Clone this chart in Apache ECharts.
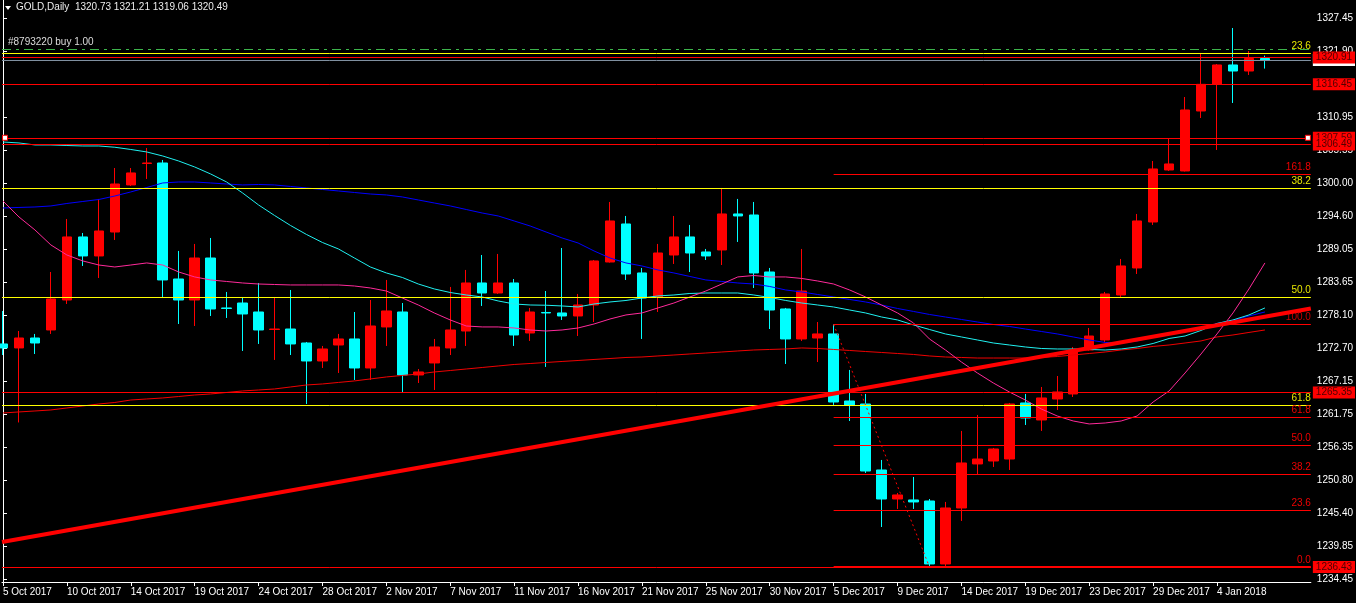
<!DOCTYPE html>
<html><head><meta charset="utf-8">
<script src="https://cdn.jsdelivr.net/npm/echarts@6/dist/echarts.min.js"></script>
<style>html,body{margin:0;padding:0;background:#000;}#c{width:1356px;height:603px;}</style>
</head><body><div id="c"></div>
<script>
// ---- data ----
const tickLabels = ['5 Oct 2017','10 Oct 2017','14 Oct 2017','19 Oct 2017','24 Oct 2017','28 Oct 2017','2 Nov 2017','7 Nov 2017','11 Nov 2017','16 Nov 2017','21 Nov 2017','25 Nov 2017','30 Nov 2017','5 Dec 2017','9 Dec 2017','14 Dec 2017','19 Dec 2017','23 Dec 2017','29 Dec 2017','4 Jan 2018'];
const yTicks = [1234.45,1239.85,1245.40,1250.80,1256.35,1261.75,1267.15,1272.70,1278.10,1283.65,1289.05,1294.60,1300.00,1305.55,1310.95,1316.40,1321.90,1327.45];

const open = [1273.41,1272.75,1274.40,1275.73,1280.70,1291.15,1288.00,1291.97,1299.77,1303.33,
1303.41,1284.18,1280.70,1287.66,1279.38,1280.20,1278.71,1275.81,1275.89,1273.57,
1270.59,1273.24,1274.24,1269.43,1276.23,1278.71,1268.27,1270.26,1272.75,1275.56,
1283.52,1281.86,1283.52,1275.23,1278.63,1278.55,1278.05,1279.87,1287.00,1293.30,
1285.18,1281.20,1288.16,1291.15,1288.66,1288.99,1294.96,1294.79,1285.34,1279.21,
1274.24,1274.40,1275.07,1263.96,1263.46,1252.52,1247.71,1247.55,1247.38,1236.94,
1246.22,1253.52,1254.01,1254.34,1263.63,1260.81,1264.29,1265.12,1272.41,1274.07,
1281.53,1286.01,1293.63,1302.25,1302.09,1312.03,1316.45,1319.66,1318.66,1320.73];
const close = [1272.75,1274.40,1273.57,1280.87,1291.15,1288.00,1292.14,1299.93,1301.76,1303.41,
1284.02,1280.70,1287.66,1279.21,1279.29,1278.38,1275.73,1275.89,1273.41,1270.59,
1272.58,1274.24,1269.43,1276.39,1278.88,1268.27,1268.77,1272.91,1275.73,1283.52,
1281.86,1283.52,1274.90,1278.71,1278.55,1278.05,1279.87,1287.17,1293.80,1285.01,
1281.03,1288.49,1291.15,1288.49,1288.00,1294.96,1294.63,1285.18,1279.04,1274.24,
1282.19,1275.07,1263.79,1263.30,1252.35,1247.71,1248.38,1247.22,1236.94,1246.22,
1253.68,1254.34,1256.00,1263.46,1261.14,1264.46,1265.45,1272.41,1274.73,1281.70,
1286.34,1293.80,1302.42,1303.25,1312.20,1316.45,1319.66,1318.66,1320.73,1320.49];
const low = [1271.58,1260.40,1271.75,1275.07,1280.04,1286.34,1284.35,1290.65,1299.60,1300.76,
1281.20,1276.72,1276.39,1278.05,1277.72,1272.25,1273.41,1270.76,1271.58,1263.46,
1269.43,1268.60,1267.44,1267.44,1273.08,1265.45,1266.94,1265.78,1271.58,1273.08,
1279.71,1281.70,1273.08,1273.91,1269.60,1277.39,1274.73,1277.05,1286.90,1284.02,
1274.24,1278.71,1286.67,1285.34,1287.33,1286.50,1290.32,1282.69,1275.89,1270.09,
1273.91,1270.42,1263.30,1260.64,1252.02,1243.07,1246.06,1246.06,1236.43,1236.50,
1244.07,1251.69,1253.02,1252.52,1259.98,1258.99,1262.47,1264.62,1272.30,1273.74,
1281.20,1285.01,1293.14,1302.09,1302.00,1310.87,1305.57,1313.36,1318.00,1319.06];
const high = [1278.88,1275.56,1275.07,1285.34,1294.13,1291.81,1297.45,1302.58,1302.58,1305.90,
1303.91,1288.83,1289.99,1290.98,1282.03,1281.20,1283.52,1281.20,1282.36,1273.74,
1273.08,1275.07,1278.71,1280.70,1284.02,1280.20,1269.26,1274.24,1282.86,1285.68,
1288.16,1288.33,1284.18,1279.38,1282.19,1289.32,1281.70,1287.33,1296.95,1294.63,
1286.01,1289.99,1294.63,1293.14,1289.16,1299.27,1297.45,1296.95,1286.01,1279.38,
1289.16,1277.05,1276.67,1269.10,1265.12,1254.18,1248.71,1251.36,1247.71,1247.22,
1258.99,1261.64,1256.17,1263.63,1265.12,1266.28,1268.10,1272.91,1276.06,1282.03,
1287.50,1294.96,1303.74,1307.39,1314.35,1321.65,1319.82,1325.79,1321.98,1321.21];

const maBlue = [1295.95,1296.04,1296.12,1296.29,1296.70,1297.03,1297.36,1297.94,1298.61,1299.35,
1300.10,1300.26,1300.26,1300.10,1299.93,1299.77,1299.85,1299.77,1299.52,1299.27,
1299.02,1298.77,1298.52,1298.27,1298.11,1297.78,1297.28,1296.78,1296.29,1295.70,
1295.12,1294.63,1293.80,1292.97,1291.97,1290.98,1290.15,1288.83,1287.66,1286.84,
1286.34,1285.68,1285.18,1284.60,1284.02,1283.77,1283.52,1283.35,1282.94,1282.36,
1282.03,1281.61,1281.20,1280.79,1280.37,1279.87,1279.29,1278.80,1278.30,1277.88,
1277.47,1277.05,1276.64,1276.31,1275.89,1275.48,1275.07,1274.57,1274.07,1273.66,
1273.57,1273.91,1274.57,1275.07,1275.40,1276.06,1276.81,1277.30,1278.05,1278.71];
const maCyan = [1306.89,1306.73,1306.40,1306.40,1306.31,1306.23,1306.23,1306.02,1305.65,1305.24,
1304.57,1303.74,1302.75,1301.59,1300.26,1298.44,1296.45,1294.71,1293.05,1291.56,
1290.23,1289.16,1287.66,1286.17,1285.18,1284.43,1283.35,1282.53,1281.94,1281.53,
1281.20,1280.54,1280.04,1279.87,1279.83,1279.71,1279.54,1280.04,1280.37,1280.62,
1281.03,1281.37,1281.53,1281.78,1281.86,1281.86,1281.86,1281.53,1281.12,1280.62,
1280.20,1279.87,1279.54,1279.04,1278.55,1277.88,1277.39,1276.56,1275.81,1275.07,
1274.57,1274.07,1273.57,1273.24,1272.91,1272.66,1272.58,1272.58,1272.50,1272.41,
1272.58,1272.91,1273.49,1274.32,1274.73,1275.65,1276.81,1277.39,1278.22,1279.38];
const maPink = [1297.11,1294.46,1292.31,1289.82,1288.16,1287.17,1286.50,1286.17,1286.50,1286.84,
1286.50,1285.34,1284.52,1284.02,1283.77,1283.52,1283.35,1283.27,1283.19,1283.19,
1283.19,1283.19,1283.02,1282.69,1282.19,1281.03,1279.87,1278.55,1277.39,1276.39,
1276.23,1276.23,1276.06,1275.73,1275.56,1275.73,1276.06,1276.72,1277.55,1278.22,
1278.55,1279.38,1280.20,1281.20,1282.19,1283.35,1284.52,1284.76,1284.52,1284.52,
1284.27,1283.85,1283.35,1282.36,1281.20,1279.87,1278.55,1276.89,1274.24,1272.41,
1270.42,1268.60,1266.94,1265.45,1264.12,1262.63,1261.47,1260.64,1260.15,1260.31,
1260.64,1261.47,1263.79,1265.62,1268.60,1271.75,1275.07,1278.55,1282.53,1286.84];
const maRed = [1261.97,1262.14,1262.30,1262.47,1262.80,1263.13,1263.46,1263.71,1264.12,1264.29,
1264.46,1264.70,1264.95,1265.12,1265.37,1265.62,1265.78,1265.95,1266.28,1266.61,
1266.78,1267.03,1267.28,1267.61,1267.94,1268.19,1268.43,1268.77,1269.01,1269.26,
1269.51,1269.76,1270.01,1270.17,1270.34,1270.51,1270.67,1270.84,1271.00,1271.17,
1271.25,1271.42,1271.58,1271.75,1271.91,1272.08,1272.25,1272.41,1272.50,1272.58,
1272.75,1272.66,1272.50,1272.33,1272.16,1272.00,1271.83,1271.67,1271.42,1271.25,
1271.17,1271.08,1271.08,1271.08,1271.08,1271.17,1271.33,1271.58,1271.83,1272.08,
1272.41,1272.66,1273.00,1273.24,1273.57,1273.91,1274.57,1274.90,1275.32,1275.73];

const priceLevels = [1316.45, 1307.59, 1265.35, 1236.43, 1306.49, 1320.91];
const bidPrice = 1320.49;
const tradePrice = 1322.26;
const tradeText = '#8793220 buy 1.00';
const yellowFibHigh = 1357.60, yellowFibLow = 1204.80;
const yellowFibRatios = [23.6, 38.2, 50.0, 61.8];
const redFibHigh = 1276.67, redFibLow = 1236.43;
const redFibRatios = [0.0, 23.6, 38.2, 50.0, 61.8, 100.0, 161.8];
const redFibStart = 52, redFibEnd = 58;
const trendLine = [[-0.0625, 1240.58], [81.875, 1279.29]];
const squarePrice = 1307.59;
const squareBars = [0.125, 81.69];

// ---- chart ----
const FONT = "'Liberation Sans','DejaVu Sans',sans-serif";
const FS = 10;
const xMin = -0.0625, xMax = 81.875;
const yMin = 1233.95, yMax = 1330.43;
const tickIdx = tickLabels.map((_, k) => k * 4);
const candles = open.map((o, i) => [i, o, close[i], low[i], high[i]]);
const toXY = arr => arr.map((v, i) => [i, v]);
const fmtR = r => r.toFixed(1);

const solid = (color, width) => ({color, width: width || 1, type: 'solid'});
const lvlLines = [];
yellowFibRatios.forEach(r => {
  const v = yellowFibHigh - r / 100 * (yellowFibHigh - yellowFibLow);
  lvlLines.push({yAxis: v, lineStyle: solid('#ffff00'),
    label: {show: true, position: 'insideEndTop', formatter: fmtR(r), color: '#e6e600', fontSize: FS, fontFamily: FONT, distance: [0, 2]}});
});
const partial = [];
redFibRatios.forEach(r => {
  const v = redFibLow + r / 100 * (redFibHigh - redFibLow);
  partial.push([
    {coord: [redFibStart, v], lineStyle: solid('#ff0000', r === 0 ? 2 : 1),
     label: {show: true, position: 'insideEndTop', formatter: fmtR(r), color: r === 100 ? '#c80000' : '#ee0000', fontSize: FS, fontFamily: FONT, distance: [0, 2]}},
    {coord: [xMax, v]}
  ]);
});
const boxLabel = (bg, fg) => ({show: true, position: 'end', distance: 2, formatter: p => p.value.toFixed(2),
  backgroundColor: bg, color: fg, fontSize: FS, fontFamily: FONT, padding: [1, 3, 0, 3], lineHeight: 11});
const priceLines = [];
priceLines.push({yAxis: tradePrice, lineStyle: {color: '#3cb44b', width: 1, type: [9, 5, 3, 5]},
  label: {show: true, position: 'insideStartTop', formatter: tradeText, color: '#dcdcdc', fontSize: FS, fontFamily: FONT, distance: [6, 2]}});
priceLines.push({yAxis: bidPrice, lineStyle: solid('#8090a0'), label: boxLabel('#ffffff', '#000000')});
priceLevels.forEach(v => priceLines.push({yAxis: v, lineStyle: solid('#ff0000'), label: boxLabel('#ff0000', '#500000')}));

const option = {
  backgroundColor: '#000000',
  animation: false,
  textStyle: {fontFamily: FONT},
  grid: {left: 0, right: 45, top: 0, bottom: 21, containLabel: false},
  xAxis: {
    type: 'value', min: xMin, max: xMax, position: 'bottom',
    axisLine: {show: true, lineStyle: {color: '#ffffff', width: 1}},
    axisTick: {show: true, length: 4, lineStyle: {color: '#ffffff'}, customValues: tickIdx},
    axisLabel: {show: true, customValues: tickIdx, formatter: v => tickLabels[Math.round(v / 4)],
      color: '#ffffff', fontSize: FS, fontFamily: FONT, align: 'left', margin: 5},
    splitLine: {show: false}
  },
  yAxis: {
    type: 'value', min: yMin, max: yMax, position: 'right',
    axisLine: {show: true, lineStyle: {color: '#ffffff', width: 1}},
    axisTick: {show: true, length: 4, lineStyle: {color: '#ffffff'}, customValues: yTicks},
    axisLabel: {show: true, customValues: yTicks, formatter: v => v.toFixed(2),
      color: '#ffffff', fontSize: FS, fontFamily: FONT, margin: 6},
    splitLine: {show: false}
  },
  series: [
    {type: 'candlestick', data: candles, encode: {x: 0, y: [1, 2, 3, 4]}, barWidth: 10, z: 2,
     itemStyle: {color: '#ff0000', color0: '#00ffff', borderColor: '#ff0000', borderColor0: '#00ffff', borderWidth: 1}},
    {type: 'line', data: toXY(maRed), showSymbol: false, symbol: 'none', z: 3, lineStyle: solid('#f00000')},
    {type: 'line', data: toXY(maBlue), showSymbol: false, symbol: 'none', z: 3, lineStyle: solid('#0000ff')},
    {type: 'line', data: toXY(maCyan), showSymbol: false, symbol: 'none', z: 3, lineStyle: solid('#20f0f0')},
    {type: 'line', data: toXY(maPink), showSymbol: false, symbol: 'none', z: 3, lineStyle: solid('#ff2a9a')},
    {type: 'line', data: [[redFibStart, redFibHigh], [redFibEnd, redFibLow]], showSymbol: false, symbol: 'none', z: 4,
     lineStyle: {color: '#ff0000', width: 1, type: [2, 3]}},
    {type: 'line', data: [], z: 4, clip: false, silent: true,
     markLine: {silent: true, symbol: ['none', 'none'], animation: false, data: lvlLines.concat(partial)}},
    {type: 'line', data: trendLine, showSymbol: false, symbol: 'none', z: 5, lineStyle: solid('#ff0000', 4)},
    {type: 'line', data: [], z: 6, clip: false, silent: true,
     markLine: {silent: true, symbol: ['none', 'none'], animation: false, data: priceLines},
     markPoint: {silent: true, symbol: 'rect', symbolSize: 5, label: {show: false},
       itemStyle: {color: '#ffffff', borderColor: '#ff0000', borderWidth: 1},
       data: squareBars.map(b => ({coord: [b, squarePrice]}))}}
  ],
  graphic: [
    {type: 'polygon', shape: {points: [[5, 6], [11, 6], [8, 10]]}, style: {fill: '#ffffff'}},
    {type: 'text', left: 16, top: 2, style: {text: 'GOLD,Daily  ' + [open[79], high[79], low[79], close[79]].map(v => v.toFixed(2)).join(' '),
      fill: '#ececec', font: FS + 'px ' + FONT}}
  ]
};
const chart = echarts.init(document.getElementById('c'), null, {renderer: 'canvas'});
chart.setOption(option);
</script></body></html>
